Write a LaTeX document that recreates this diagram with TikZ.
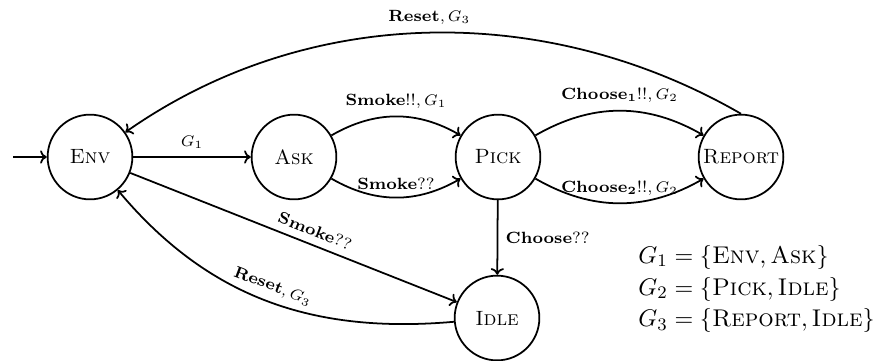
\documentclass[tikz,border=0pt]{standalone}
\usepackage{amsmath}
\usetikzlibrary{arrows.meta}
\begin{document}
\begin{tikzpicture}[x=0.4545pt,y=-0.4545pt,
  statenode/.style={circle,draw,thick,minimum size=38.5pt,inner sep=0pt,font=\fontsize{9.4}{11}\selectfont},
  trans/.style={-{To[length=3pt,width=6pt]},thick},
  lbl/.style={font=\fontsize{7.4}{9}\selectfont}]
\path[use as bounding box] (0,0) rectangle (880,360);
\node[statenode] (env) at (90,157) {\textsc{Env}};
\node[statenode] (ask) at (294,157) {\textsc{Ask}};
\node[statenode] (pick) at (498,157) {\textsc{Pick}};
\node[statenode] (report) at (741,157) {\textsc{Report}};
\node[statenode] (idle) at (497,318) {\textsc{Idle}};
\coordinate (start) at (13,157);
\draw[trans] (start) -- (env);
\draw[trans] (env) -- node[lbl,above] {$G_1$} (ask);
\draw[trans] (ask) to[bend left=30] node[lbl,above] {\textbf{Smoke}!!$, G_1$} (pick);
\draw[trans] (ask) to[bend right=30] node[lbl,above] {\textbf{Smoke}??} (pick);
\draw[trans] (pick) to[bend left=30] node[lbl,above] {\textbf{Choose$_{\mathbf{1}}$}!!$, G_2$} (report);
\draw[trans] (pick) to[bend right=30] node[lbl,above] {\textbf{Choose$_{\mathbf{2}}$}!!$, G_2$} (report);
\draw[trans] (report.north) to[out=150,in=35,looseness=0.93] node[lbl,above] {\textbf{Reset}$, G_3$} (env);
\draw[trans] (env) -- node[lbl,above,sloped,pos=0.55] {\textbf{Smoke}??} (idle);
\draw[trans] (pick) -- node[lbl,right] {\textbf{Choose}??} (idle);
\draw[trans] (idle) to[out=185,in=-50,looseness=1.0] node[lbl,above,sloped,pos=0.5] {\textbf{Reset}$, G_3$} (env);
\node[anchor=west,align=left,inner sep=0pt,font=\fontsize{11}{13.5}\selectfont] (legend) at (638,289) {$G_1 = \{\textsc{Env}, \textsc{Ask}\}$\\[1pt]$G_2 = \{\textsc{Pick}, \textsc{Idle}\}$\\[1pt]$G_3 = \{\textsc{Report}, \textsc{Idle}\}$};
\end{tikzpicture}
\end{document}
